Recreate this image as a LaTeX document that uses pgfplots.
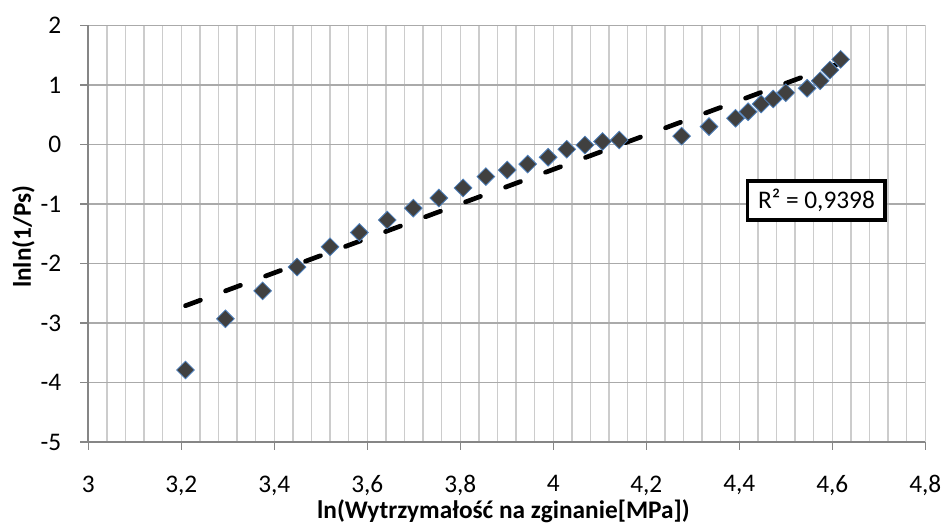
\documentclass[border=0pt]{standalone}
\usepackage{fontspec}
\setmainfont{Carlito}
\usepackage{pgfplots}
\pgfplotsset{compat=1.18}
\definecolor{hgrid}{RGB}{170,170,170}
\definecolor{vgrid}{RGB}{204,204,204}
\definecolor{axisgray}{RGB}{134,134,134}
\definecolor{markfill}{RGB}{64,64,64}
\definecolor{markedge}{RGB}{79,129,189}
\begin{document}
\begin{tikzpicture}
\useasboundingbox (0,0) rectangle (707.25pt,397.5pt);
\begin{axis}[
  at={(66.2pt,66pt)}, anchor=south west,
  scale only axis, width=627.75pt, height=312.4pt,
  xmin=3, xmax=4.8, ymin=-5, ymax=2,
  xtick={3,3.2,3.4,3.6,3.8,4,4.2,4.4,4.6,4.8},
  ytick={-5,-4,-3,-2,-1,0,1,2},
  minor x tick num=4,
  axis lines=left,
  axis line style={-, draw=axisgray, line width=1.2pt},
  xmajorgrids, xminorgrids, ymajorgrids,
  x grid style={vgrid, line width=1pt},
  y grid style={hgrid, line width=1.2pt},
  tick align=outside, major tick length=6pt, minor tick length=0pt,
  tick style={axisgray, line width=1pt},
  /pgf/number format/use comma,
  /pgf/number format/assume math mode=true,
  tick label style={font=\fontsize{19}{22}\selectfont, inner sep=0pt},
  xticklabel style={yshift=-19pt},
  yticklabel style={xshift=-14pt},
  xlabel={ln(Wytrzymałość na zginanie[MPa])},
  ylabel={lnln(1/Ps)},
  label style={font=\bfseries\fontsize{19}{22}\selectfont},
  xlabel style={at={(rel axis cs:0.496,-0.1673)}, anchor=center},
  ylabel style={at={(rel axis cs:-0.0774,0.493)}, anchor=center},
]
\addplot[only marks, mark=square*, mark size=4.7pt,
  mark options={rotate=45, fill=markfill, draw=markedge, line width=0.6pt}]
  coordinates {
  (3.209,-3.79) (3.295,-2.93) (3.375,-2.46) (3.449,-2.06) (3.520,-1.72)
  (3.583,-1.48) (3.643,-1.27) (3.699,-1.07) (3.754,-0.90) (3.806,-0.73)
  (3.855,-0.54) (3.901,-0.43) (3.945,-0.33) (3.989,-0.215) (4.029,-0.08)
  (4.068,-0.01) (4.106,0.05) (4.142,0.075) (4.276,0.14) (4.335,0.30)
  (4.392,0.44) (4.419,0.55) (4.447,0.68) (4.473,0.765) (4.500,0.87)
  (4.546,0.945) (4.574,1.07) (4.595,1.25) (4.618,1.43)
  };
\addplot[black, line width=3.5pt, dash pattern=on 12pt off 20pt, line cap=round]
  coordinates {(3.209,-2.71) (4.618,1.37)};
\node[draw=black, line width=2.5pt, fill=white, minimum width=103pt,
  minimum height=29.3pt, inner sep=0pt, font=\fontsize{19}{22}\selectfont]
  at (axis cs:4.566,-0.94) {R² = 0,9398};
\end{axis}
\end{tikzpicture}
\end{document}
